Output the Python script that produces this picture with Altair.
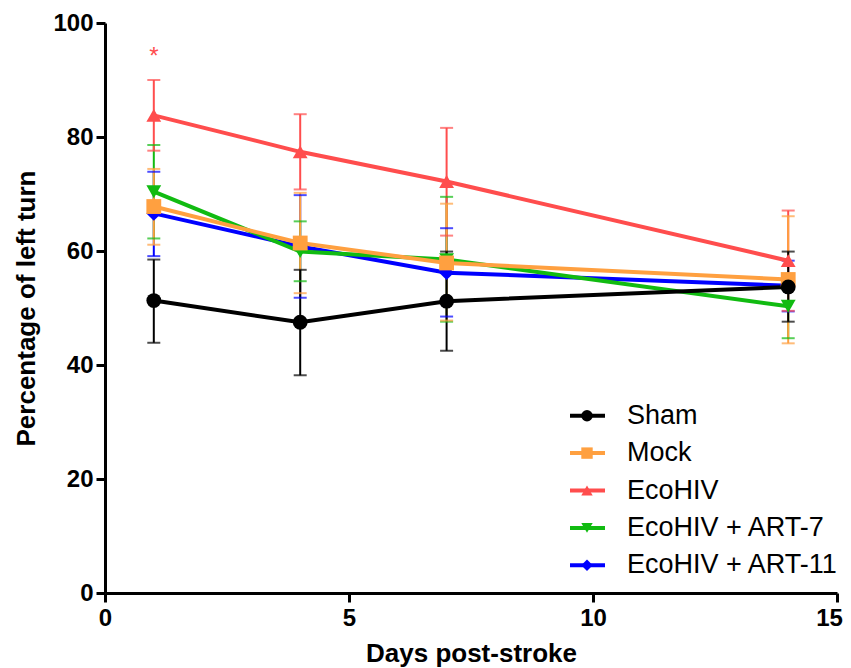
import altair as alt
import pandas as pd

series = ["Sham", "Mock", "EcoHIV", "EcoHIV + ART-7", "EcoHIV + ART-11"]
colors = ["#000000", "#FFA040", "#FF4D4D", "#11BB11", "#0000FF"]
shapes = ["circle", "square", "triangle-up", "triangle-down", "diamond"]
days = [1, 4, 7, 14]

means = {
    "Sham": [51.3, 47.5, 51.2, 53.7],
    "Mock": [67.8, 61.4, 57.9, 55.0],
    "EcoHIV": [83.8, 77.4, 72.2, 58.3],
    "EcoHIV + ART-7": [70.4, 59.9, 58.5, 50.3],
    "EcoHIV + ART-11": [66.6, 60.8, 56.2, 53.9],
}
lows = {
    "Sham": [43.9, 38.2, 42.5, 47.6],
    "Mock": [61.1, 52.6, 47.8, 43.8],
    "EcoHIV": [77.6, 70.8, 62.7, 49.5],
    "EcoHIV + ART-7": [62.2, 54.7, 47.6, 44.7],
    "EcoHIV + ART-11": [59.1, 51.8, 48.5, 49.4],
}
highs = {
    "Sham": [58.5, 56.7, 59.9, 59.9],
    "Mock": [74.4, 70.2, 68.3, 66.1],
    "EcoHIV": [90.0, 84.0, 81.6, 67.1],
    "EcoHIV + ART-7": [78.6, 65.2, 69.5, 55.9],
    "EcoHIV + ART-11": [73.9, 69.8, 64.0, 58.3],
}
sig_day = [1]
sig_value = [95.5]
sig_label = ["*"]

draw_order = ["EcoHIV + ART-11", "EcoHIV + ART-7", "EcoHIV", "Mock", "Sham"]
rows = []
for s in draw_order:
    for i, d in enumerate(days):
        rows.append({"series": s, "day": d, "mean": means[s][i],
                     "lo": lows[s][i], "hi": highs[s][i],
                     "ord": draw_order.index(s)})
df = pd.DataFrame(rows)
sig_df = pd.DataFrame({"day": sig_day, "value": sig_value, "label": sig_label})
leg_df = pd.DataFrame({"series": series})

FONT = "Liberation Sans"
color_scale = alt.Scale(domain=series, range=colors)
shape_scale = alt.Scale(domain=series, range=shapes)

xenc = alt.X("day:Q", scale=alt.Scale(domain=[0, 15], nice=False),
             axis=alt.Axis(values=[0, 5, 10, 15], title="Days post-stroke",
                           labelOffset={"condition": {"test": "datum.value == 15", "value": -8},
                                        "value": 0}))
yenc = alt.Y("mean:Q", scale=alt.Scale(domain=[0, 100], nice=False),
             axis=alt.Axis(values=[0, 20, 40, 60, 80, 100], title="Percentage of left turn"))

base = alt.Chart(df)
col = alt.Color("series:N", scale=color_scale, legend=None)

err = base.mark_rule(strokeWidth=2).encode(
    x=xenc, y=alt.Y("lo:Q"), y2="hi:Q", color=col, order="ord:Q")
cap_lo = base.mark_tick(orient="horizontal", size=13, thickness=2).encode(
    x="day:Q", y="lo:Q", color=col)
cap_hi = base.mark_tick(orient="horizontal", size=13, thickness=2).encode(
    x="day:Q", y="hi:Q", color=col)
lines = base.mark_line(strokeWidth=4).encode(
    x="day:Q", y=yenc, color=col, detail="series:N", order="day:Q")
points = base.mark_point(filled=True, size=220, opacity=1).encode(
    x="day:Q", y="mean:Q", color=col,
    shape=alt.Shape("series:N", scale=shape_scale, legend=None))
star = alt.Chart(sig_df).mark_text(fontSize=24, font=FONT, color="#FF4D4D",
                                   baseline="middle", dy=8).encode(
    x="day:Q", y=alt.Y("value:Q"), text="label:N")

main = alt.layer(err, cap_lo, cap_hi, lines, points, star)

ly = alt.Y("series:N", sort=series, axis=None,
           scale=alt.Scale(range=[374, 561]))
lbase = alt.Chart(leg_df)
leg_rule = lbase.mark_rule(strokeWidth=4).encode(
    x=alt.value(465), x2=alt.value(500), y=ly, color=col)
leg_pt = lbase.mark_point(filled=True, size=130, opacity=1).encode(
    x=alt.value(482), y=ly, color=col,
    shape=alt.Shape("series:N", scale=shape_scale, legend=None))
leg_txt = lbase.mark_text(align="left", baseline="middle", fontSize=27,
                          font=FONT, color="black").encode(
    x=alt.value(522), y=ly, text="series:N")
legend = alt.layer(leg_rule, leg_pt, leg_txt)

chart = alt.layer(main, legend).resolve_scale(y="independent").properties(
    width=732, height=570,
    autosize=alt.AutoSizeParams(type="none"),
    padding={"left": 97, "top": 15, "right": 6, "bottom": 75},
).configure_view(stroke=None).configure_axis(
    grid=False, domainColor="black", domainWidth=3, tickColor="black",
    tickWidth=3, tickSize=9, labelFont=FONT, labelFontSize=24,
    labelFontWeight="bold", labelColor="black", titleFont=FONT,
    titleFontSize=26, titleFontWeight="bold", titleColor="black",
    labelPadding=3, labelFlush=False,
).configure_axisX(titlePadding=10, labelPadding=4).configure_axisY(
    titlePadding=13, titleFontSize=26)

chart.save("out.html", embed_options={"renderer": "svg", "actions": False})
